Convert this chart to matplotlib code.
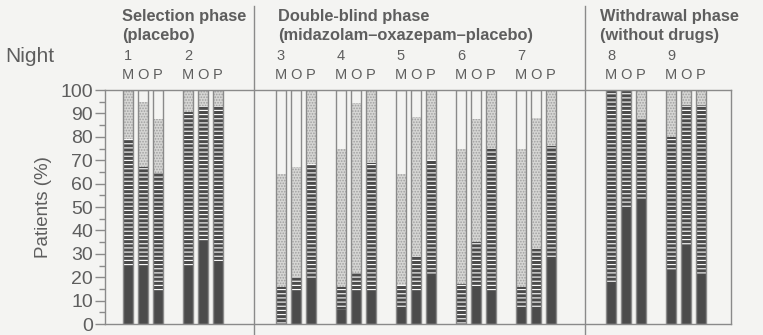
import matplotlib.pyplot as plt
from matplotlib.ticker import MultipleLocator

plt.rcParams['font.family'] = ['Liberation Sans', 'DejaVu Sans']
plt.rcParams['hatch.linewidth'] = 0.8

nights = ["1", "2", "3", "4", "5", "6", "7", "8", "9"]
drugs = ["M", "O", "P"]
phase_titles = ["Selection phase", "Double-blind phase", "Withdrawal phase"]
phase_notes = ["(placebo)", "(midazolam\u2013oxazepam\u2013placebo)", "(without drugs)"]

# cumulative top (%) of each band, night by night, order M, O, P
solid_top = [25, 25, 13.5,   25, 34.5, 26,   0, 14, 19,    6, 14, 13.5,
             7, 14, 20.5,    0, 15, 14,      7, 7, 28,     17, 49, 53,
             22.5, 33, 21]
lines_top = [79, 67, 64.5,   90.5, 93, 93,   16, 20, 68.5, 16, 22, 69,
             16.5, 29, 70,   17, 35, 75,     16, 32, 76,   100, 100, 87.5,
             80, 93.5, 93.5]
dots_top = [100, 95, 87.5,   100, 100, 100,  64, 67, 100,  75, 94.5, 100,
            64, 88.5, 100,   75, 87.5, 100,  75, 88, 100,  100, 100, 100,
            100, 100, 100]

# layout
centers = [1, 2, 3.55, 4.55, 5.55, 6.55, 7.55, 9.05, 10.05]
phase_x = [0.65, 3.25, 8.62]
dividers = [2.85, 8.37]
width, step = 0.18, 0.25

dark, light, grey, txt = "#4b4b4b", "#d6d6d4", "#8a8a8a", "#5e5e5e"
bg = "#f4f4f2"

fig = plt.figure(figsize=(7.63, 3.35), dpi=100, facecolor=bg)
ax = fig.add_axes([0.1376, 0.0328, 0.8204, 0.6985], facecolor=bg)

for i, night in enumerate(nights):
    for j, drug in enumerate(drugs):
        k = 3 * i + j
        x = centers[i] + (j - 1) * step
        s, l, d = solid_top[k], lines_top[k], dots_top[k]
        ax.bar(x, s, width, color=dark, lw=0)
        ax.bar(x, l - s, width, bottom=s, color=dark, edgecolor="white",
               hatch="----", lw=0)
        ax.bar(x, d - l, width, bottom=l, color=light, edgecolor="#a0a0a0",
               hatch="......", lw=0)
        ax.bar(x, 100, width, fill=False, edgecolor=grey, lw=1)
        ax.text(x, 106.5, drug, ha="center", va="center", fontsize=10.5,
                color=txt, clip_on=False)
    ax.text(centers[i] - step, 114.5, night, ha="center", va="center",
            fontsize=10.5, color=txt, clip_on=False)

for px, t, n in zip(phase_x, phase_titles, phase_notes):
    ax.text(px, 131.5, t, ha="left", va="center", fontsize=11.8,
            fontweight="bold", color=txt, clip_on=False)
    ax.text(px, 123.5, n, ha="left", va="center", fontsize=11.8,
            fontweight="bold", color=txt, clip_on=False)

ax.text(-1.3, 114.5, "Night", ha="left", va="center", fontsize=15,
        color=txt, clip_on=False)

for dx in dividers:
    ax.plot([dx, dx], [-5, 136], color=grey, lw=1, clip_on=False)

ax.set_xlim(0.367, 10.8)
ax.set_ylim(0, 100)
ax.set_xticks([])
ax.yaxis.set_major_locator(MultipleLocator(10))
ax.yaxis.set_minor_locator(MultipleLocator(5))
ax.tick_params(axis="y", which="major", length=7.5, width=1, colors=grey,
               labelcolor=txt, labelsize=14, pad=1)
ax.tick_params(axis="y", which="minor", length=4, width=1, colors=grey)
for sp in ax.spines.values():
    sp.set_color(grey)
    sp.set_linewidth(1)
ax.set_ylabel("Patients (%)", fontsize=13.5, color=txt, labelpad=6)

fig.savefig("out.png", dpi=100, facecolor=bg)
